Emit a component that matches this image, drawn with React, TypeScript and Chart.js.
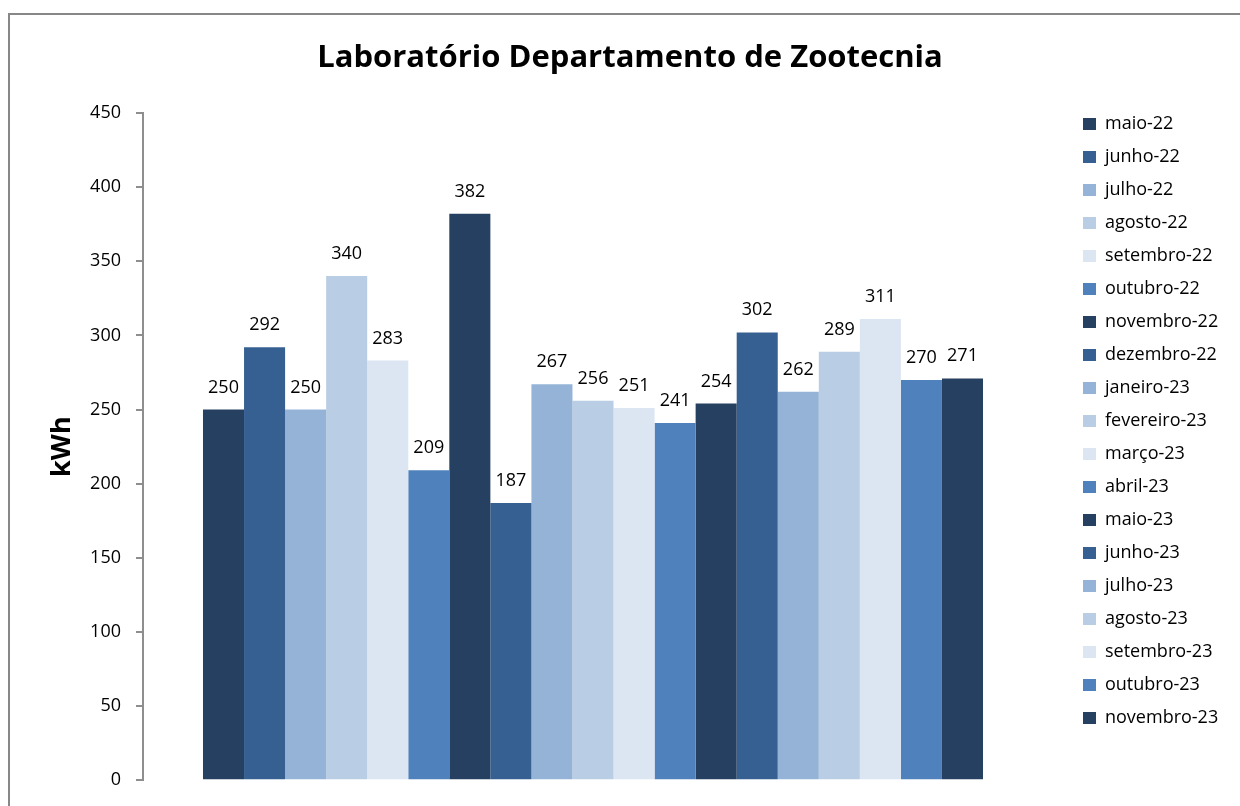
import React, { useEffect, useRef } from "react";
import { Chart, registerables } from "chart.js";

Chart.register(...registerables);

const categories: string[] = [""];
const months: string[] = [
  "maio-22", "junho-22", "julho-22", "agosto-22", "setembro-22", "outubro-22",
  "novembro-22", "dezembro-22", "janeiro-23", "fevereiro-23", "março-23", "abril-23",
  "maio-23", "junho-23", "julho-23", "agosto-23", "setembro-23", "outubro-23", "novembro-23",
];
const values: number[] = [250, 292, 250, 340, 283, 209, 382, 187, 267, 256, 251, 241, 254, 302, 262, 289, 311, 270, 271];
const palette: string[] = ["#254061", "#366092", "#95B3D7", "#B9CDE5", "#DCE6F2", "#4F81BD"];
const yTicks: number[] = [0, 50, 100, 150, 200, 250, 300, 350, 400, 450];

const TITLE = "Laboratório Departamento de Zootecnia";
const Y_TITLE = "kWh";
const FONT = "'Open Sans', 'DejaVu Sans', sans-serif";

const LEGEND_PAD = 15;
const LEGEND_BOX_X = 1083;
const LEGEND_FIRST_ROW_TOP = 115;

const valueLabels = {
  id: "valueLabels",
  afterDatasetsDraw(chart: any) {
    const ctx = chart.ctx;
    ctx.save();
    ctx.font = `18px ${FONT}`;
    ctx.fillStyle = "#000";
    ctx.textAlign = "center";
    ctx.textBaseline = "alphabetic";
    chart.data.datasets.forEach((ds: any, i: number) => {
      const meta = chart.getDatasetMeta(i);
      meta.data.forEach((el: any, j: number) => {
        ctx.fillText(String(ds.data[j]), el.x, el.y - 17);
      });
    });
    ctx.restore();
  },
};

const legendPlacement = {
  id: "legendPlacement",
  afterLayout(chart: any) {
    const lg = chart.legend;
    if (!lg) return;
    const h = lg.height;
    lg.left = LEGEND_BOX_X - LEGEND_PAD;
    lg.right = chart.width;
    lg.width = lg.right - lg.left;
    lg.top = LEGEND_FIRST_ROW_TOP - LEGEND_PAD;
    lg.bottom = lg.top + h;
  },
};

export default function App() {
  const ref = useRef<HTMLCanvasElement | null>(null);

  useEffect(() => {
    if (!ref.current) return;
    const datasets = months.map((m, i) => ({
      label: m,
      data: [values[i]],
      backgroundColor: palette[i % palette.length],
      borderWidth: 0,
      categoryPercentage: 0.8667,
      barPercentage: 1,
      yAxisID: "y",
    }));
    const chart = new Chart(ref.current, {
      type: "bar",
      data: { labels: categories, datasets },
      plugins: [valueLabels, legendPlacement],
      options: {
        animation: false,
        responsive: false,
        maintainAspectRatio: false,
        events: [],
        layout: { padding: { left: 20, right: 0, top: 0, bottom: 24 } },
        font: { family: FONT },
        plugins: {
          title: {
            display: true,
            text: TITLE,
            color: "#000",
            font: { family: FONT, size: 31, weight: "bold", lineHeight: 1.2 },
            padding: { top: 40, bottom: 35.8 },
          },
          legend: {
            display: true,
            position: "right",
            align: "start",
            maxWidth: 120,
            labels: {
              color: "#000",
              font: { family: FONT, size: 18 },
              boxWidth: 13,
              boxHeight: 12,
              padding: LEGEND_PAD,
            },
          },
          tooltip: { enabled: false },
        },
        scales: {
          x: {
            type: "category",
            display: false,
            offset: true,
          },
          y: {
            type: "linear",
            position: "left",
            min: 0,
            max: 450,
            afterBuildTicks: (scale: any) => {
              scale.ticks = yTicks.map((v) => ({ value: v }));
            },
            afterFit: (scale: any) => {
              scale.width = 123;
            },
            ticks: {
              stepSize: 50,
              color: "#000",
              font: { family: FONT, size: 18 },
              padding: 15,
            },
            grid: {
              display: true,
              drawOnChartArea: false,
              drawTicks: true,
              tickLength: 7,
              color: "#8E8E8E",
              lineWidth: 2,
            },
            border: { display: true, color: "#8E8E8E", width: 2 },
            title: {
              display: true,
              text: Y_TITLE,
              color: "#000",
              font: { family: FONT, size: 27, weight: "bold", lineHeight: 1.2 },
              padding: { top: 25.8, bottom: 0 },
            },
          },
          yR: {
            type: "linear",
            position: "right",
            display: true,
            grid: { display: false },
            border: { display: false },
            ticks: { display: false },
            afterFit: (scale: any) => {
              scale.width = 77;
            },
          },
        },
      } as any,
    });
    return () => chart.destroy();
  }, []);

  return (
    <>
      <div
        style={{
          position: "fixed",
          left: 8,
          top: 13,
          width: 1300,
          height: 900,
          border: "2px solid #878787",
          boxSizing: "border-box",
          background: "#fff",
        }}
      />
      <canvas
        ref={ref}
        width={1240}
        height={806}
        style={{ position: "fixed", left: 0, top: 0, width: 1240, height: 806 }}
      />
    </>
  );
}
